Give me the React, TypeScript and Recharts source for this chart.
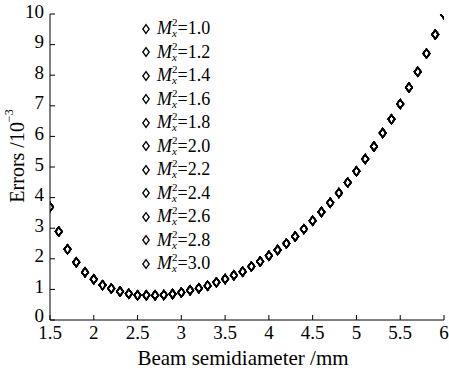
import React from 'react';
import { ScatterChart, Scatter, XAxis, YAxis, Legend } from 'recharts';

const beamRadius = [1.5, 1.6, 1.7, 1.8, 1.9, 2.0, 2.1, 2.2, 2.3, 2.4, 2.5, 2.6, 2.7, 2.8, 2.9, 3.0, 3.1, 3.2, 3.3, 3.4, 3.5, 3.6, 3.7, 3.8, 3.9, 4.0, 4.1, 4.2, 4.3, 4.4, 4.5, 4.6, 4.7, 4.8, 4.9, 5.0, 5.1, 5.2, 5.3, 5.4, 5.5, 5.6, 5.7, 5.8, 5.9, 6.0];
const errors = [3.69, 2.89, 2.31, 1.89, 1.56, 1.33, 1.14, 1.03, 0.93, 0.86, 0.81, 0.81, 0.81, 0.82, 0.85, 0.9, 0.97, 1.04, 1.12, 1.23, 1.34, 1.46, 1.58, 1.75, 1.91, 2.1, 2.29, 2.5, 2.73, 2.97, 3.24, 3.53, 3.83, 4.15, 4.49, 4.86, 5.26, 5.67, 6.11, 6.56, 7.06, 7.6, 8.11, 8.71, 9.33, 9.99];
const m2Values = ['1.0', '1.2', '1.4', '1.6', '1.8', '2.0', '2.2', '2.4', '2.6', '2.8', '3.0'];
const xTicks = [1.5, 2, 2.5, 3, 3.5, 4, 4.5, 5, 5.5, 6];
const yTicks = [0, 1, 2, 3, 4, 5, 6, 7, 8, 9, 10];

const data = beamRadius.map((x, i) => ({ x, y: errors[i] }));

const FONT = '"Liberation Serif", "Times New Roman", serif';

const Diamond = (props: any) => {
  const { cx, cy } = props;
  if (cx == null || cy == null) return null;
  const w = 3.3;
  const h = 4.4;
  return (
    <path
      d={`M${cx},${cy - h}L${cx + w},${cy}L${cx},${cy + h}L${cx - w},${cy}Z`}
      fill="none"
      stroke="#000"
      strokeWidth={1.3}
    />
  );
};

const LegendContent = () => (
  <div style={{ fontFamily: FONT, fontSize: 18, color: '#000' }}>
    {m2Values.map((m) => (
      <div key={m} style={{ display: 'flex', alignItems: 'center', height: 23.5 }}>
        <svg width={12} height={12} style={{ marginRight: 5 }}>
          <path d="M6,1.7L9.2,6L6,10.3L2.8,6Z" fill="none" stroke="#000" strokeWidth={1.3} />
        </svg>
        <span style={{ fontStyle: 'italic' }}>M</span>
        <span
          style={{
            display: 'inline-flex',
            flexDirection: 'column',
            fontSize: 11,
            lineHeight: '11px',
            marginLeft: 0,
            marginTop: -1,
          }}
        >
          <span>2</span>
          <span style={{ fontStyle: 'italic' }}>x</span>
        </span>
        <span>={m}</span>
      </div>
    ))}
  </div>
);

const YTitle = (props: any) => {
  const vb = props.viewBox || {};
  const cx = vb.x + 17;
  const cy = vb.y + vb.height / 2 - 11;
  return (
    <text
      x={cx}
      y={cy}
      transform={`rotate(-90, ${cx}, ${cy})`}
      textAnchor="middle"
      dominantBaseline="central"
      fontFamily={FONT}
      fontSize={20}
      fill="#000"
    >
      Errors /10
      <tspan fontSize={12} dy={-8}>−3</tspan>
    </text>
  );
};

const XTitle = (props: any) => {
  const vb = props.viewBox || {};
  return (
    <text
      x={vb.x + vb.width / 2 - 4}
      y={vb.y + 45}
      textAnchor="middle"
      fontFamily={FONT}
      fontSize={21}
      fill="#000"
    >
      Beam semidiameter /mm
    </text>
  );
};

const YTick = (props: any) => {
  const { x, y, payload } = props;
  const shift = payload.value === 0 ? -5 : -3;
  return (
    <text
      x={x}
      y={y + shift}
      textAnchor="end"
      dominantBaseline="central"
      fontFamily={FONT}
      fontSize={19}
      fill="#000"
    >
      {payload.value}
    </text>
  );
};

const NoTick = () => <g />;

const tickStyle = { fill: '#000', fontFamily: FONT, fontSize: 19 };

export default function App() {
  return (
    <div style={{ position: 'absolute', left: 0, top: 0, background: '#fff' }}>
      <ScatterChart width={449} height={369} margin={{ top: 14, right: 5, left: 0, bottom: 0 }}>
        <XAxis
          xAxisId="bottom"
          dataKey="x"
          type="number"
          domain={[1.5, 6]}
          ticks={xTicks}
          allowDataOverflow
          height={49}
          tickSize={-5}
          tickMargin={11}
          stroke="#000"
          tick={tickStyle}
          label={<XTitle />}
        />
        <XAxis
          xAxisId="top"
          orientation="top"
          type="number"
          domain={[1.5, 6]}
          ticks={xTicks}
          height={0}
          tickSize={-5}
          stroke="#000"
          tick={<NoTick />}
        />
        <YAxis
          yAxisId="left"
          dataKey="y"
          type="number"
          domain={[0, 10]}
          ticks={yTicks}
          allowDataOverflow
          width={50}
          tickSize={-5}
          tickMargin={11}
          stroke="#000"
          tick={<YTick />}
          label={<YTitle />}
        />
        <YAxis
          yAxisId="right"
          orientation="right"
          type="number"
          domain={[0, 10]}
          ticks={yTicks}
          width={0}
          tickSize={-5}
          stroke="#000"
          tick={<NoTick />}
        />
        <Legend
          layout="vertical"
          align="center"
          verticalAlign="middle"
          content={<LegendContent />}
          wrapperStyle={{ position: 'absolute', left: 140, top: 17, width: 120 }}
        />
        {m2Values.map((m) => (
          <Scatter
            key={m}
            name={`M2=${m}`}
            data={data}
            xAxisId="bottom"
            yAxisId="left"
            shape={<Diamond />}
            isAnimationActive={false}
          />
        ))}
      </ScatterChart>
    </div>
  );
}
